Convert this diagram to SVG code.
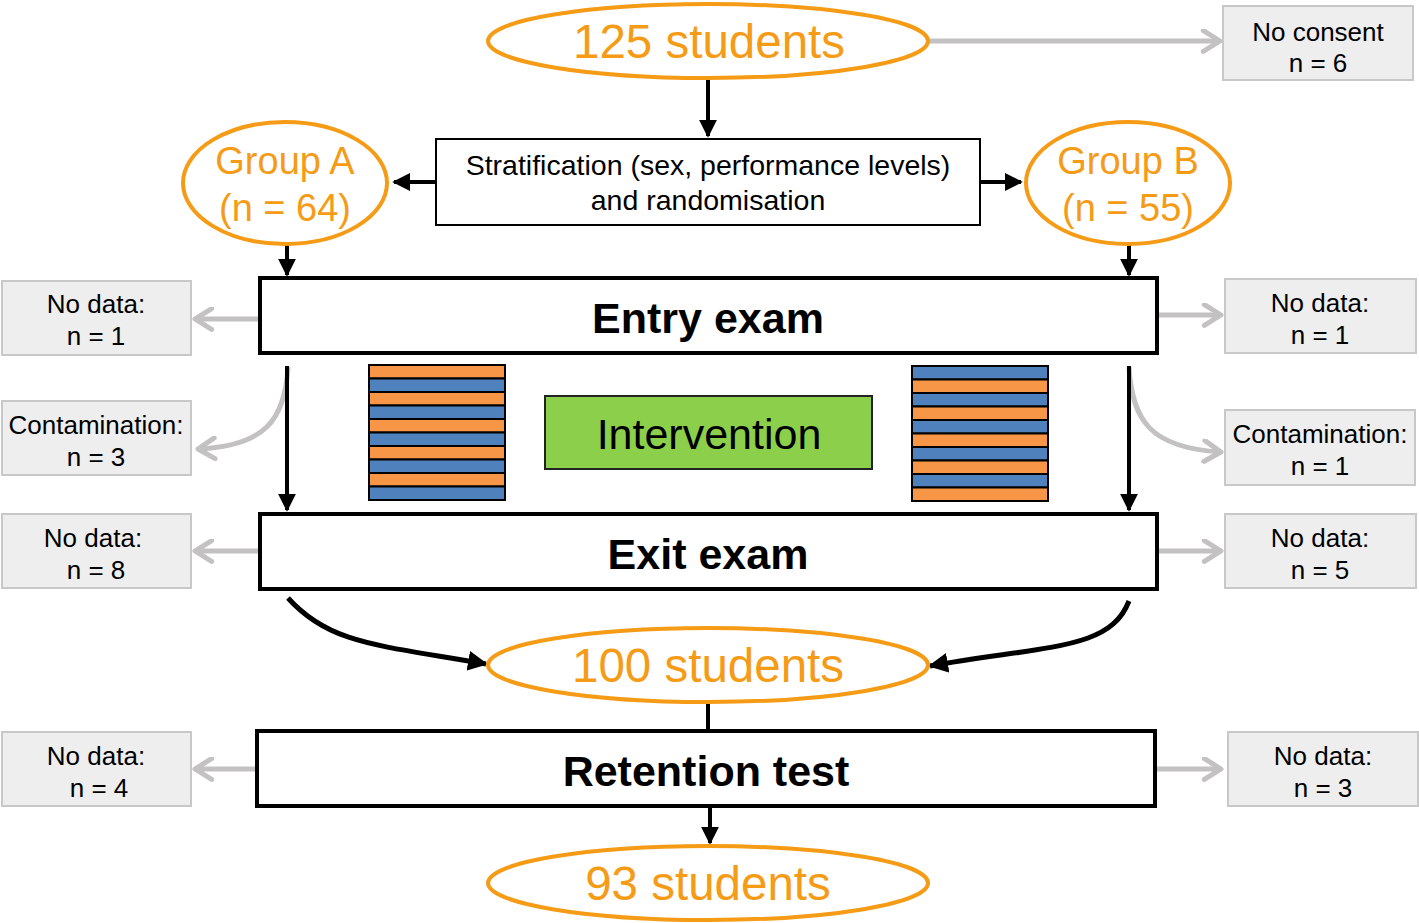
<svg xmlns="http://www.w3.org/2000/svg" width="1419" height="923" viewBox="0 0 1419 923">
<defs>
<style>
.ell{fill:#fff;stroke:#F59B16;stroke-width:4}
.ot{font-family:"Liberation Sans",Arial,sans-serif;fill:#F59B16;text-anchor:middle}
.big{font-size:47.5px}
.grp{font-size:38px}
.box{fill:#fff;stroke:#000;stroke-width:4}
.bt{font-family:"Liberation Sans",Arial,sans-serif;font-weight:bold;font-size:43px;text-anchor:middle;fill:#000}
.gb{fill:#EEEEEE;stroke:#C8C8C8;stroke-width:2}
.gt{font-family:"Liberation Sans",Arial,sans-serif;font-size:26px;text-anchor:middle;fill:#000}
.st{font-family:"Liberation Sans",Arial,sans-serif;font-size:28.5px;text-anchor:middle;fill:#000}
.ga{fill:none;stroke:#C3C1C1;stroke-width:5;marker-end:url(#gh)}
.ka{fill:none;stroke:#000;stroke-width:4;marker-end:url(#kh)}
.kc{fill:none;stroke:#000;stroke-width:5;marker-end:url(#kh2)}
.so{fill:#F79646;stroke:#000;stroke-width:2}
.sb{fill:#4F81BD;stroke:#000;stroke-width:2}
</style>
<marker id="gh" viewBox="0 0 12 12" refX="10" refY="6" markerWidth="5" markerHeight="5" orient="auto" markerUnits="strokeWidth">
<path d="M2,1 L10,6 L2,11" fill="none" stroke="#C3C1C1" stroke-width="2.4" stroke-linecap="round" stroke-linejoin="round"/>
</marker>
<marker id="kh" viewBox="0 0 10 10" refX="9" refY="5" markerWidth="4.5" markerHeight="4.5" orient="auto" markerUnits="strokeWidth">
<path d="M0,0 L10,5 L0,10 Z" fill="#000"/>
</marker>
<marker id="kh2" viewBox="0 0 10 10" refX="9" refY="5" markerWidth="4" markerHeight="4" orient="auto" markerUnits="strokeWidth">
<path d="M0,0 L10,5 L0,10 Z" fill="#000"/>
</marker>
</defs>

<g id="connectors">
<path class="ga" d="M928,41 L1220,41"/>
<path class="ka" d="M708,78 L708,136"/>
<path class="ka" d="M436,182 L394,182"/>
<path class="ka" d="M980,182 L1021,182"/>
<path class="ka" d="M287,245 L287,275"/>
<path class="ka" d="M1129,245 L1129,275"/>
<path class="ga" d="M258,319 L195,319"/>
<path class="ga" d="M1158,315 L1221,315"/>
<path class="ga" d="M288,367 C285,420 265,446 198,449"/>
<path class="ga" d="M1129,367 C1132,420 1150,448 1221,452"/>
<path class="ka" d="M287,366 L287,510"/>
<path class="ka" d="M1129,366 L1129,510"/>
<path class="ga" d="M258,551 L195,551"/>
<path class="ga" d="M1158,551 L1221,551"/>
<path class="kc" d="M288,598 C330,645 380,645 486,664"/>
<path class="kc" d="M1129,601 C1110,650 1050,645 930,666"/>
<path d="M708,702 L708,731" stroke="#000" stroke-width="4" fill="none"/>
<path class="ga" d="M255,769 L195,769"/>
<path class="ga" d="M1156,769 L1221,769"/>
<path class="ka" d="M710,806 L710,843"/>
</g>

<g id="n125">
<ellipse class="ell" cx="708" cy="41" rx="220" ry="37"/>
<text class="ot big" x="709" y="58">125 students</text>
</g>
<g id="noconsent">
<rect class="gb" x="1223" y="6" width="190" height="74"/>
<text class="gt" x="1318" y="41">No consent</text>
<text class="gt" x="1318" y="72">n = 6</text>
</g>
<g id="strat">
<rect x="436" y="139" width="544" height="86" fill="#fff" stroke="#000" stroke-width="2"/>
<text class="st" x="708" y="175">Stratification (sex, performance levels)</text>
<text class="st" x="708" y="210">and randomisation</text>
</g>
<g id="groupA">
<ellipse class="ell" cx="285" cy="183" rx="102" ry="61"/>
<text class="ot grp" x="285" y="174">Group A</text>
<text class="ot grp" x="285" y="221">(n = 64)</text>
</g>
<g id="groupB">
<ellipse class="ell" cx="1128" cy="183" rx="102" ry="61"/>
<text class="ot grp" x="1128" y="174">Group B</text>
<text class="ot grp" x="1128" y="221">(n = 55)</text>
</g>
<g id="entry">
<rect class="box" x="260" y="278" width="897" height="75"/>
<text class="bt" x="708" y="333">Entry exam</text>
</g>
<g id="nd1L">
<rect class="gb" x="2" y="281" width="189" height="74"/>
<text class="gt" x="96" y="313">No data:</text>
<text class="gt" x="96" y="345">n = 1</text>
</g>
<g id="nd1R">
<rect class="gb" x="1225" y="279" width="191" height="74"/>
<text class="gt" x="1320" y="312">No data:</text>
<text class="gt" x="1320" y="344">n = 1</text>
</g>
<g id="contL">
<rect class="gb" x="2" y="401" width="189" height="74"/>
<text class="gt" x="96" y="434">Contamination:</text>
<text class="gt" x="96" y="466">n = 3</text>
</g>
<g id="contR">
<rect class="gb" x="1225" y="410" width="190" height="75"/>
<text class="gt" x="1320" y="443">Contamination:</text>
<text class="gt" x="1320" y="475">n = 1</text>
</g>
<g id="stripesL">
<rect class="so" x="369" y="365" width="136" height="13.5"/>
<rect class="sb" x="369" y="378.5" width="136" height="13.5"/>
<rect class="so" x="369" y="392" width="136" height="13.5"/>
<rect class="sb" x="369" y="405.5" width="136" height="13.5"/>
<rect class="so" x="369" y="419" width="136" height="13.5"/>
<rect class="sb" x="369" y="432.5" width="136" height="13.5"/>
<rect class="so" x="369" y="446" width="136" height="13.5"/>
<rect class="sb" x="369" y="459.5" width="136" height="13.5"/>
<rect class="so" x="369" y="473" width="136" height="13.5"/>
<rect class="sb" x="369" y="486.5" width="136" height="13.5"/>
</g>
<g id="stripesR">
<rect class="sb" x="912" y="366" width="136" height="13.5"/>
<rect class="so" x="912" y="379.5" width="136" height="13.5"/>
<rect class="sb" x="912" y="393" width="136" height="13.5"/>
<rect class="so" x="912" y="406.5" width="136" height="13.5"/>
<rect class="sb" x="912" y="420" width="136" height="13.5"/>
<rect class="so" x="912" y="433.5" width="136" height="13.5"/>
<rect class="sb" x="912" y="447" width="136" height="13.5"/>
<rect class="so" x="912" y="460.5" width="136" height="13.5"/>
<rect class="sb" x="912" y="474" width="136" height="13.5"/>
<rect class="so" x="912" y="487.5" width="136" height="13.5"/>
</g>
<g id="intervention">
<rect x="545" y="396" width="327" height="73" fill="#8CCF4B" stroke="#222" stroke-width="2"/>
<text x="709" y="449" font-family="Liberation Sans,Arial,sans-serif" font-size="43" text-anchor="middle" fill="#000">Intervention</text>
</g>
<g id="exit">
<rect class="box" x="260" y="514" width="897" height="75"/>
<text class="bt" x="708" y="569">Exit exam</text>
</g>
<g id="nd8">
<rect class="gb" x="2" y="514" width="189" height="74"/>
<text class="gt" x="93" y="547">No data:</text>
<text class="gt" x="96" y="579">n = 8</text>
</g>
<g id="nd5">
<rect class="gb" x="1225" y="514" width="191" height="74"/>
<text class="gt" x="1320" y="547">No data:</text>
<text class="gt" x="1320" y="579">n = 5</text>
</g>
<g id="n100">
<ellipse class="ell" cx="708" cy="665" rx="220" ry="37"/>
<text class="ot big" x="708" y="682">100 students</text>
</g>
<g id="retention">
<rect class="box" x="257" y="731" width="898" height="75"/>
<text class="bt" x="706" y="786">Retention test</text>
</g>
<g id="nd4">
<rect class="gb" x="2" y="732" width="189" height="74"/>
<text class="gt" x="96" y="765">No data:</text>
<text class="gt" x="99" y="797">n = 4</text>
</g>
<g id="nd3">
<rect class="gb" x="1228" y="732" width="190" height="74"/>
<text class="gt" x="1323" y="765">No data:</text>
<text class="gt" x="1323" y="797">n = 3</text>
</g>
<g id="n93">
<ellipse class="ell" cx="708" cy="883" rx="220" ry="37"/>
<text class="ot big" x="708" y="900">93 students</text>
</g>
</svg>
